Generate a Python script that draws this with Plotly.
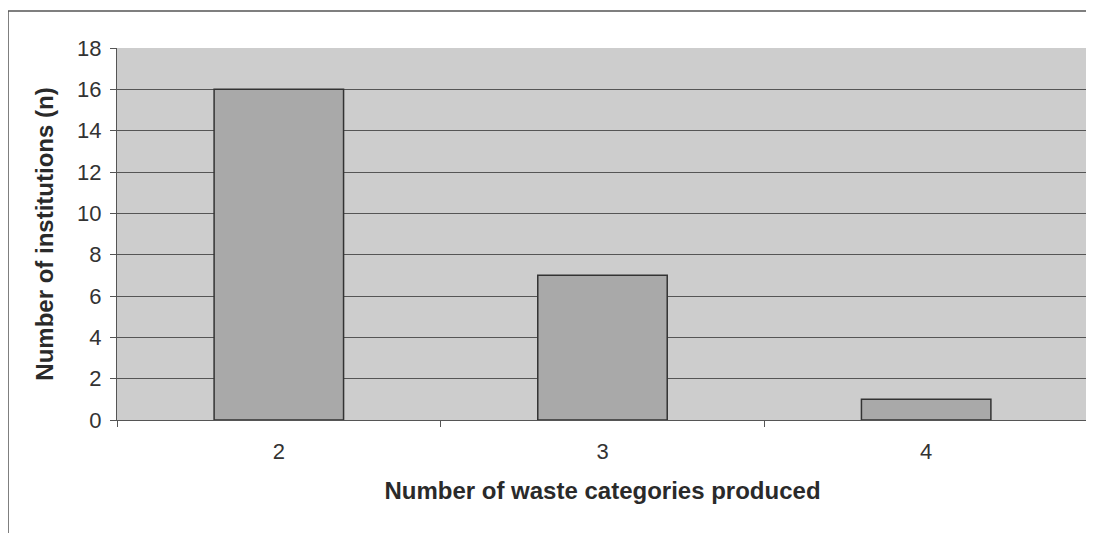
import plotly.graph_objects as go

categories = ["2", "3", "4"]
institutions = [16, 7, 1]
y_ticks = [0, 2, 4, 6, 8, 10, 12, 14, 16, 18]

# browser body margin (8px) is compensated for
W, H = 1086, 525
ml, mr, mt, mb = 109, 6, 40, 113
pw, ph = W - ml - mr, H - mt - mb

fig = go.Figure()
fig.add_trace(go.Bar(
    x=categories, y=institutions, width=0.4,
    marker=dict(color="#a9a9a9", line=dict(color="#333333", width=1.5)),
))

font = "Liberation Sans, Arial, sans-serif"
fig.update_layout(
    width=W, height=H,
    margin=dict(l=ml, r=mr, t=mt, b=mb),
    paper_bgcolor="white", plot_bgcolor="#cdcdcd",
    showlegend=False,
    font=dict(family=font, size=22, color="#333333"),
    xaxis=dict(
        type="category", ticks="outside", tickson="boundaries", ticklen=6,
        tickcolor="#555555", showline=True, linecolor="#555555", linewidth=1,
        showgrid=False, ticklabelstandoff=12,
        title=dict(text="<b>Number of waste categories produced</b>", standoff=18,
                   font=dict(size=24, family=font, color="#2a2a2a")),
        tickfont=dict(size=22),
    ),
    yaxis=dict(
        range=[0, 18], tickvals=y_ticks, ticks="outside", ticklen=6,
        tickcolor="#555555", showline=True, linecolor="#555555", linewidth=1,
        showgrid=True, gridcolor="#555555", gridwidth=1, zeroline=False,
        ticklabelstandoff=4,
        title=dict(text="<b>Number of institutions (n)</b>", standoff=16,
                   font=dict(size=24, family=font, color="#2a2a2a")),
        tickfont=dict(size=22),
    ),
)

# outer frame
fig.add_shape(type="rect", xref="paper", yref="paper",
              x0=(0 - ml) / pw, x1=1.2, y0=-0.6, y1=(H - mb - 3) / ph,
              line=dict(color="#555555", width=1.5), fillcolor="rgba(0,0,0,0)", layer="below")
# right border of plot
fig.add_shape(type="line", xref="paper", yref="paper", x0=1, x1=1, y0=0, y1=1,
              line=dict(color="#888888", width=1))

fig.write_html("out.html")
